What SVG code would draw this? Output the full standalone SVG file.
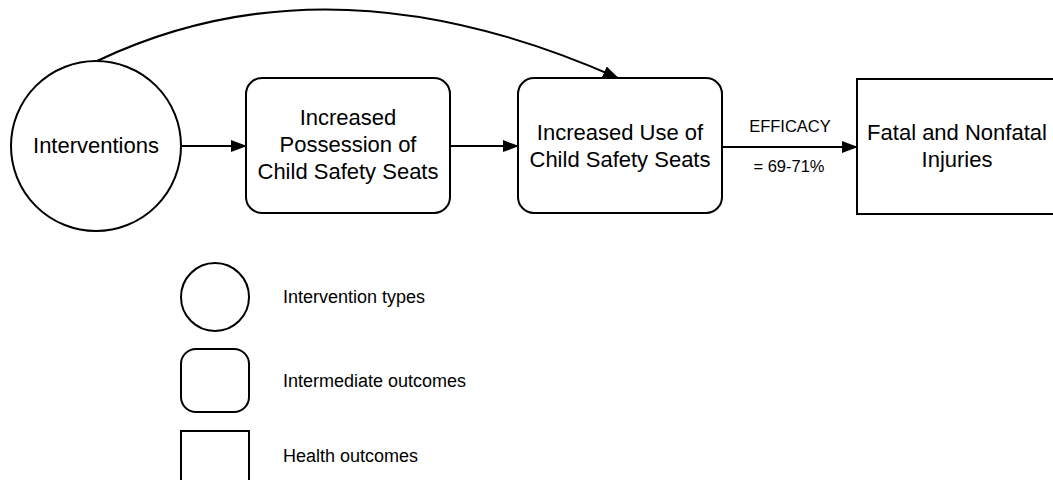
<svg xmlns="http://www.w3.org/2000/svg" width="1053" height="480" viewBox="0 0 1053 480">
<style>
.n{fill:#fff;stroke:#000;stroke-width:2}
.c{fill:none;stroke:#000;stroke-width:2}
.t{font-family:"Liberation Sans",Arial,sans-serif;font-size:22px;fill:#000;text-anchor:middle}
.s{font-family:"Liberation Sans",Arial,sans-serif;font-size:16.5px;fill:#000;text-anchor:middle}
.l{font-family:"Liberation Sans",Arial,sans-serif;font-size:18px;fill:#000}
</style>
<defs>
<marker id="ah" markerWidth="16" markerHeight="12" refX="15" refY="6" orient="auto" markerUnits="userSpaceOnUse">
<path d="M0,0 L16,6 L0,12 Z" fill="#000"/>
</marker>
</defs>
<rect width="1053" height="480" fill="#fff"/>
<g id="connectors">
<path class="c" d="M97,61 Q330,-50 618,78" marker-end="url(#ah)"/>
<line class="c" x1="182" y1="146" x2="246" y2="146" marker-end="url(#ah)"/>
<line class="c" x1="450" y1="146" x2="518" y2="146" marker-end="url(#ah)"/>
<line class="c" x1="722" y1="147" x2="857" y2="147" marker-end="url(#ah)"/>
<text class="s" x="790" y="132">EFFICACY</text>
<text class="s" x="789" y="172">= 69-71%</text>
</g>
<g id="interventions">
<circle class="n" cx="96" cy="146" r="85"/>
<text class="t" x="96" y="153">Interventions</text>
</g>
<g id="possession">
<rect class="n" x="246" y="78" width="204" height="135" rx="16"/>
<text class="t" x="348" y="125">Increased</text>
<text class="t" x="348" y="152">Possession of</text>
<text class="t" x="348" y="179">Child Safety Seats</text>
</g>
<g id="use">
<rect class="n" x="518" y="78" width="204" height="135" rx="16"/>
<text class="t" x="620" y="140">Increased Use of</text>
<text class="t" x="620" y="167">Child Safety Seats</text>
</g>
<g id="injuries">
<rect class="n" x="857" y="79" width="210" height="135"/>
<text class="t" x="957" y="140">Fatal and Nonfatal</text>
<text class="t" x="957" y="167">Injuries</text>
</g>
<g id="legend">
<circle class="n" cx="215" cy="297" r="34"/>
<text class="l" x="283" y="303">Intervention types</text>
<rect class="n" x="181" y="349" width="68" height="63" rx="15"/>
<text class="l" x="283" y="387">Intermediate outcomes</text>
<rect class="n" x="181" y="431" width="68" height="60"/>
<text class="l" x="283" y="462">Health outcomes</text>
</g>
</svg>
